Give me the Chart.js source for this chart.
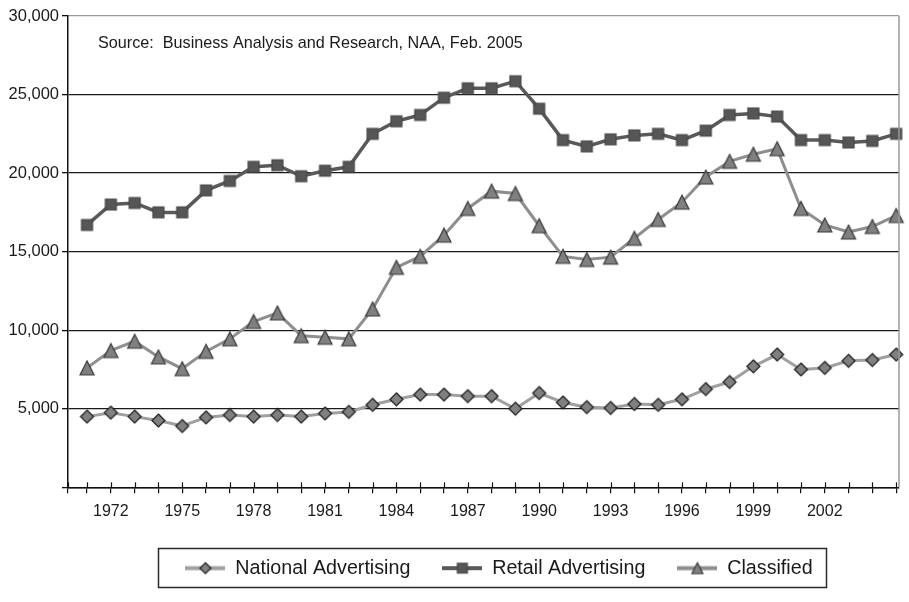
<!DOCTYPE html>
<html>
<head>
<meta charset="utf-8">
<script src="https://cdn.jsdelivr.net/npm/chart.js@4.4.1/dist/chart.umd.min.js"></script>
<style>
  html, body { margin: 0; padding: 0; background: #ffffff; }
  #wrap { width: 909px; height: 602px; }
</style>
</head>
<body>
<div id="wrap"><canvas id="chart" width="909" height="602"></canvas></div>
<script>
// Newspaper advertising expenditures by category, 1971-2005 (millions of dollars)
const years = [1971, 1972, 1973, 1974, 1975, 1976, 1977, 1978, 1979, 1980,
               1981, 1982, 1983, 1984, 1985, 1986, 1987, 1988, 1989, 1990,
               1991, 1992, 1993, 1994, 1995, 1996, 1997, 1998, 1999, 2000,
               2001, 2002, 2003, 2004, 2005];
const labeledYears = [1972, 1975, 1978, 1981, 1984, 1987, 1990, 1993, 1996, 1999, 2002];

const national = [4500, 4750, 4500, 4250, 3900, 4450, 4600, 4500, 4600, 4500,
                  4700, 4800, 5250, 5600, 5900, 5900, 5800, 5800, 5000, 6000,
                  5400, 5100, 5050, 5300, 5250, 5600, 6250, 6700, 7700, 8450,
                  7500, 7600, 8050, 8100, 8450];
const retail = [16700, 18000, 18100, 17500, 17500, 18900, 19500, 20400, 20500, 19800,
                20150, 20400, 22500, 23300, 23700, 24800, 25400, 25400, 25850, 24100,
                22100, 21700, 22150, 22400, 22500, 22100, 22700, 23700, 23800, 23600,
                22100, 22100, 21950, 22050, 22500];
const classified = [7600, 8700, 9300, 8300, 7550, 8650, 9450, 10550, 11100, 9650,
                    9550, 9450, 11350, 14000, 14700, 16050, 17750, 18850, 18700, 16650,
                    14700, 14500, 14650, 15850, 17050, 18150, 19750, 20750, 21200, 21550,
                    17750, 16700, 16250, 16600, 17300];

const seriesNames = ['National Advertising', 'Retail Advertising', 'Classified'];
const yMin = 0, yMax = 30000, yStep = 5000;
const xMin = 1970.2, xMax = 2005.12;
const sourceNote = 'Source:  Business Analysis and Research, NAA, Feb. 2005';

const FONT = "'Liberation Sans', Arial, Helvetica, sans-serif";

// Marker glyphs drawn onto small canvases; optionally with a line segment for the legend
function makeMarker(kind, size, fill, edge, lineColor, lineW) {
  const w = lineColor ? 40 : size + 4;
  const h = size + 4;
  const c = document.createElement('canvas');
  c.width = w; c.height = h;
  const g = c.getContext('2d');
  const cx = w / 2, cy = h / 2, s = size / 2;
  if (lineColor) {
    g.strokeStyle = lineColor; g.lineWidth = lineW;
    g.beginPath(); g.moveTo(0, cy); g.lineTo(w, cy); g.stroke();
  }
  g.beginPath();
  if (kind === 'diamond') {
    g.moveTo(cx, cy - s); g.lineTo(cx + s, cy); g.lineTo(cx, cy + s); g.lineTo(cx - s, cy);
  } else if (kind === 'square') {
    g.rect(cx - s, cy - s, size, size);
  } else {
    g.moveTo(cx, cy - s); g.lineTo(cx + s, cy + s); g.lineTo(cx - s, cy + s);
  }
  g.closePath();
  g.fillStyle = fill; g.fill();
  g.lineWidth = 1.2; g.strokeStyle = edge; g.stroke();
  return c;
}

const styles = [
  { line: '#a0a0a0', width: 3,   kind: 'diamond', size: 13, fill: '#808080', edge: '#1c1c1c', lsize: 11 },
  { line: '#595959', width: 3.5, kind: 'square',  size: 11, fill: '#565656', edge: '#484848', lsize: 10 },
  { line: '#8e8e8e', width: 3,   kind: 'triangle', size: 14, fill: '#808080', edge: '#383838', lsize: 11 }
];
const seriesData = [national, retail, classified];

const datasets = seriesData.map((vals, i) => {
  const st = styles[i];
  return {
    label: seriesNames[i],
    data: years.map((yr, k) => ({ x: yr, y: vals[k] })),
    borderColor: st.line,
    borderWidth: st.width,
    backgroundColor: st.fill,
    pointStyle: makeMarker(st.kind, st.size, st.fill, st.edge),
    pointRadius: st.size / 2,
    tension: 0,
    clip: false
  };
});
const legendSamples = styles.map(st =>
  makeMarker(st.kind, st.lsize, st.fill, st.edge, st.line, 4));

// Legend placement, short tick marks above the year axis, grey right frame, source note, legend box
const decorations = {
  id: 'decorations',
  afterLayout(chart) {
    const lg = chart.legend, ca = chart.chartArea;
    if (!lg) return;
    const dx = (ca.left + 431) - (lg.left + lg.right) / 2;
    const dy = (ca.bottom + 39) - lg.top;
    lg.left += dx; lg.right += dx;
    lg.top += dy; lg.bottom += dy;
  },
  afterDatasetsDraw(chart) {
    const { ctx, chartArea: ca, scales } = chart;
    ctx.save();
    ctx.strokeStyle = '#9a9a9a'; ctx.lineWidth = 1.5;
    ctx.beginPath(); ctx.moveTo(ca.right, ca.top); ctx.lineTo(ca.right, ca.bottom); ctx.stroke();
    ctx.strokeStyle = '#111'; ctx.lineWidth = 1.2;
    scales.x.ticks.forEach(t => {
      const px = Math.round(scales.x.getPixelForValue(t.value)) + 0.5;
      ctx.beginPath(); ctx.moveTo(px, ca.bottom - 5); ctx.lineTo(px, ca.bottom); ctx.stroke();
    });
    ctx.fillStyle = '#1a1a1a';
    ctx.font = '16.2px ' + FONT;
    ctx.textBaseline = 'middle';
    ctx.fillText(sourceNote, ca.left + 30, ca.top + 28);
    ctx.restore();
  },
  afterDraw(chart) {
    const lg = chart.legend;
    if (!lg || !lg.legendHitBoxes.length) return;
    const hb = lg.legendHitBoxes;
    const left = Math.min(...hb.map(b => b.left)) - 27;
    const right = Math.max(...hb.map(b => b.left + b.width)) + 14;
    const cy = hb[0].top + hb[0].height / 2;
    const ctx = chart.ctx;
    ctx.save();
    ctx.strokeStyle = '#2a2a2a'; ctx.lineWidth = 1.5;
    ctx.strokeRect(Math.round(left) + 0.5, Math.round(cy - 20) + 0.5, Math.round(right - left), 39);
    ctx.restore();
  }
};

new Chart(document.getElementById('chart'), {
  type: 'line',
  data: { datasets },
  options: {
    responsive: false,
    animation: false,
    devicePixelRatio: 1,
    layout: { padding: { left: 8, right: 10, top: 16, bottom: 16 } },
    plugins: {
      tooltip: { enabled: false },
      title: { display: false },
      legend: {
        position: 'bottom',
        labels: {
          usePointStyle: true,
          pointStyleWidth: 40,
          padding: 32,
          color: '#1a1a1a',
          font: { family: FONT, size: 19.7 },
          generateLabels(chart) {
            return chart.data.datasets.map((ds, i) => ({
              text: ds.label,
              pointStyle: legendSamples[i],
              fillStyle: ds.backgroundColor,
              strokeStyle: ds.borderColor,
              lineWidth: 0,
              hidden: false,
              datasetIndex: i,
              fontColor: '#1a1a1a'
            }));
          }
        }
      }
    },
    scales: {
      x: {
        type: 'linear',
        min: xMin,
        max: xMax,
        afterBuildTicks(axis) {
          axis.ticks = [{ value: xMin }].concat(years.map(v => ({ value: v })));
        },
        afterFit(axis) { axis.height = 37; },
        ticks: {
          autoSkip: false,
          maxRotation: 0,
          padding: 9,
          color: '#1a1a1a',
          font: { family: FONT, size: 16 },
          callback: v => labeledYears.includes(v) ? String(v) : ''
        },
        grid: { drawOnChartArea: false, drawTicks: true, tickLength: 6, color: '#111', lineWidth: 1.2 },
        border: { color: '#111', width: 1.5 }
      },
      y: {
        min: yMin,
        max: yMax,
        afterFit(axis) { axis.width = 60; },
        ticks: {
          stepSize: yStep,
          padding: 3,
          color: '#1a1a1a',
          font: { family: FONT, size: 16.5 },
          callback: v => v === 0 ? '' : v.toLocaleString('en-US')
        },
        grid: {
          color: c => c.tick && c.tick.value === yMax ? '#9a9a9a' : '#1a1a1a',
          tickColor: '#111',
          lineWidth: 1.3,
          tickLength: 6
        },
        border: { color: '#111', width: 1.5 }
      }
    }
  },
  plugins: [decorations]
});
</script>
</body>
</html>
